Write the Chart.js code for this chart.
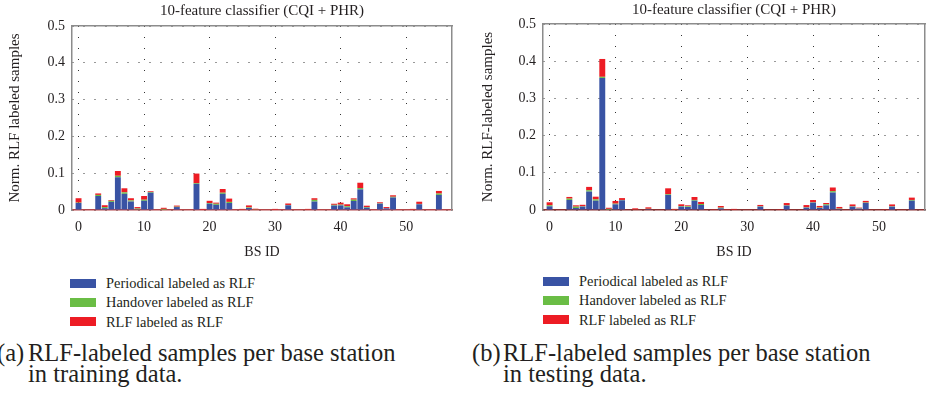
<!DOCTYPE html>
<html>
<head>
<meta charset="utf-8">
<script src="https://cdn.jsdelivr.net/npm/chart.js@4"></script>
<style>
  body { margin: 0; background: #fff; }
  #wrap { position: relative; width: 927px; height: 398px; overflow: hidden; background: #fff;
          font-family: "Liberation Serif", serif; color: #231f20; }
  canvas { position: absolute; top: 0; }
  .leg { position: absolute; font-size: 14.4px; line-height: 16px; white-space: nowrap; }
  .leg span.box { position: absolute; width: 26px; height: 9px; }
  .leg span.txt { position: absolute; }
  .cap { position: absolute; font-size: 24.5px; line-height: 21px; white-space: nowrap; }
</style>
</head>
<body>
<div id="wrap">
  <canvas id="trainChart" width="463" height="262" style="left:0px"></canvas>
  <canvas id="testChart" width="457" height="262" style="left:470px"></canvas>
  <div id="legTrain"></div>
  <div id="legTest"></div>
  <div class="cap" style="left:-3px;top:342px">(a)</div>
  <div class="cap" style="left:28px;top:342px">RLF-labeled samples per base station<br>in training data.</div>
  <div class="cap" style="left:472px;top:342px">(b)</div>
  <div class="cap" style="left:503px;top:342px">RLF-labeled samples per base station<br>in testing data.</div>
</div>
<script>
// BS ID 0..56
var bsIds = [0,1,2,3,4,5,6,7,8,9,10,11,12,13,14,15,16,17,18,19,20,21,22,23,24,25,26,27,28,
             29,30,31,32,33,34,35,36,37,38,39,40,41,42,43,44,45,46,47,48,49,50,51,52,53,54,55,56];

// training data (a)
var trainPeriodic = [0.019,0,0,0.038,0.005,0.022,0.089,0.044,0.023,0.002,0.025,0.047,0,0,0,0.008,0,0,0.071,0,
                     0.017,0.014,0.044,0.019,0,0,0.0055,0,0,0,0,0,0.0127,0,0,0,0.023,0,0,0.012,
                     0.0125,0.0072,0.0245,0.056,0.0063,0,0.017,0.0045,0.034,0,0,0,0.0155,0,0,0.041,0];
var trainHandover = [0.001,0,0,0.003,0.003,0.003,0.004,0.004,0.003,0.002,0.003,0.002,0,0.003,0,0.001,0,0,0.002,0,
                     0.002,0.003,0.003,0.003,0,0.0015,0.0015,0.002,0,0,0,0,0.001,0,0,0.0015,0.0045,0,0,0.002,
                     0.002,0.003,0.0036,0.0036,0.0018,0,0.001,0,0.002,0,0,0.0015,0.001,0,0,0.0036,0];
var trainRlf = [0.012,0,0,0.004,0.005,0.002,0.013,0.011,0.006,0.004,0.010,0.002,0,0.003,0,0.003,0,0,0.026,0.003,
                0.006,0.003,0.010,0.009,0,0.0015,0.0055,0.0015,0,0,0.003,0,0.004,0,0,0.0015,0.0045,0,0,0.003,
                0.0055,0.0054,0.0036,0.0145,0.0036,0,0.003,0.0035,0.004,0,0,0.0015,0.006,0,0,0.0072,0];

// testing data (b)
var testPeriodic = [0.010,0,0,0.027,0.0054,0.009,0.0495,0.025,0.355,0.001,0.0153,0.026,0,0,0,0.0027,0,0,0.0405,0,
                    0.009,0.0081,0.025,0.0135,0,0,0.0045,0,0,0,0,0,0.009,0,0,0,0.0117,0,0,0.0063,
                    0.0198,0.0054,0.0126,0.047,0.0027,0,0.009,0.0036,0.019,0,0,0,0.009,0,0,0.025,0];
var testHandover = [0.0027,0,0,0.0036,0.0036,0.001,0.0036,0.0036,0.003,0.002,0.0018,0.001,0,0.0015,0,0.0005,0,0,0.0018,0.001,
                    0.0018,0.0018,0.002,0.0027,0,0,0.0018,0,0,0,0,0,0.001,0,0,0,0.001,0,0,0.001,
                    0.001,0.001,0.0027,0.0036,0.001,0,0.001,0.001,0.001,0,0,0,0.001,0,0,0.002,0];
var testRlf = [0.008,0,0,0.0045,0.0036,0.004,0.009,0.0072,0.048,0.003,0.0072,0.005,0,0.003,0,0.004,0,0,0.016,0.002,
               0.0045,0.0027,0.008,0.0054,0,0.002,0.0045,0.002,0.003,0,0,0,0.0036,0,0,0.002,0.006,0,0,0.006,
               0.006,0.0045,0.0036,0.0099,0.0045,0,0.005,0.0018,0.0045,0,0,0.002,0.005,0,0,0.0063,0];

var yTicks = [0,0.05,0.1,0.15,0.2,0.25,0.3,0.35,0.4,0.45,0.5];
var seriesNames = ['Periodical labeled as RLF', 'Handover labeled as RLF', 'RLF labeled as RLF'];
var seriesColors = ['#3953a4', '#6abd45', '#ed1c24'];

var FONT = 'Liberation Serif';
var TXT = '#231f20';
var FRAME = '#8c8c8c';

function makeChart(id, yTitle, cols, geo) {
  var ctx = document.getElementById(id);
  return new Chart(ctx, {
    type: 'bar',
    data: {
      labels: bsIds,
      datasets: cols.map(function (c, k) {
        return {
          label: seriesNames[k],
          data: c,
          backgroundColor: seriesColors[k],
          borderWidth: 0,
          barPercentage: 1,
          categoryPercentage: 0.9
        };
      })
    },
    options: {
      responsive: false,
      animation: false,
      events: [],
      layout: { padding: { left: 0, right: geo.padRight, top: 0, bottom: 0 } },
      plugins: { legend: { display: false }, tooltip: { enabled: false } },
      scales: {
        x: {
          type: 'linear', position: 'bottom', stacked: true, min: -1, max: 57, offset: false,
          ticks: { stepSize: 10, includeBounds: false, padding: 9, color: TXT, font: { family: FONT, size: 14 } },
          grid: { color: '#333', lineWidth: 1, drawTicks: false, offset: false },
          border: { color: geo.baseColor, width: 1.5, dash: [1, 10] },
          title: { display: true, text: 'BS ID', color: TXT, font: { family: FONT, size: 14 }, padding: { top: 0, bottom: 1 } },
          afterFit: function (s) { s.height = geo.xHeight; }
        },
        x2: {
          type: 'linear', position: 'top', min: -1, max: 57, offset: false,
          ticks: { display: false },
          grid: { display: false, drawTicks: false },
          border: { color: FRAME, width: 1.5 },
          title: { display: true, text: '10-feature classifier (CQI + PHR)', color: TXT, font: { family: FONT, size: 15 }, padding: { top: geo.titlePad, bottom: 0 } },
          afterFit: function (s) { s.height = geo.top; }
        },
        y: {
          type: 'linear', position: 'left', stacked: true, min: 0, max: 0.5,
          afterBuildTicks: function (s) { s.ticks = yTicks.map(function (v) { return { value: v }; }); },
          ticks: { padding: 7, color: TXT, font: { family: FONT, size: 14 },
                   callback: function (v) { return String(+v.toFixed(2)); } },
          grid: { color: '#333', lineWidth: 1, drawTicks: false },
          border: { color: FRAME, width: 1.5, dash: [1, 10] },
          title: { display: true, text: yTitle, color: TXT, font: { family: FONT, size: 15 }, padding: { top: geo.yTitlePad, bottom: 0 } },
          afterFit: function (s) { s.width = geo.yWidth; }
        },
        y2: {
          type: 'linear', position: 'right', min: 0, max: 0.5,
          ticks: { display: false },
          grid: { display: false, drawTicks: false },
          border: { color: FRAME, width: 1.5 },
          afterFit: function (s) { s.width = 0; }
        }
      }
    }
  });
}

var trainChart = makeChart('trainChart', 'Norm. RLF labeled samples', [trainPeriodic, trainHandover, trainRlf],
  { padRight: 11, xHeight: 52, top: 26, titlePad: 2, yWidth: 72, yTitlePad: 6, baseColor: '#b5474a' });
var testChart = makeChart('testChart', 'Norm. RLF-labeled samples', [testPeriodic, testHandover, testRlf],
  { padRight: 2, xHeight: 52, top: 24, titlePad: 1, yWidth: 73, yTitlePad: 9, baseColor: '#8b3030' });

// legends below each panel
function makeLegend(id, left, top) {
  var el = document.getElementById(id);
  el.className = 'leg';
  el.style.left = left + 'px';
  el.style.top = top + 'px';
  var html = '';
  seriesNames.forEach(function (n, k) {
    var y = k * 19.3;
    html += '<span class="box" style="left:0;top:' + (y - 4.5) + 'px;background:' + seriesColors[k] + '"></span>';
    html += '<span class="txt" style="left:36px;top:' + (y - 8) + 'px">' + n + '</span>';
  });
  el.innerHTML = html;
}
makeLegend('legTrain', 70, 283);
makeLegend('legTest', 543, 281);
</script>
</body>
</html>
